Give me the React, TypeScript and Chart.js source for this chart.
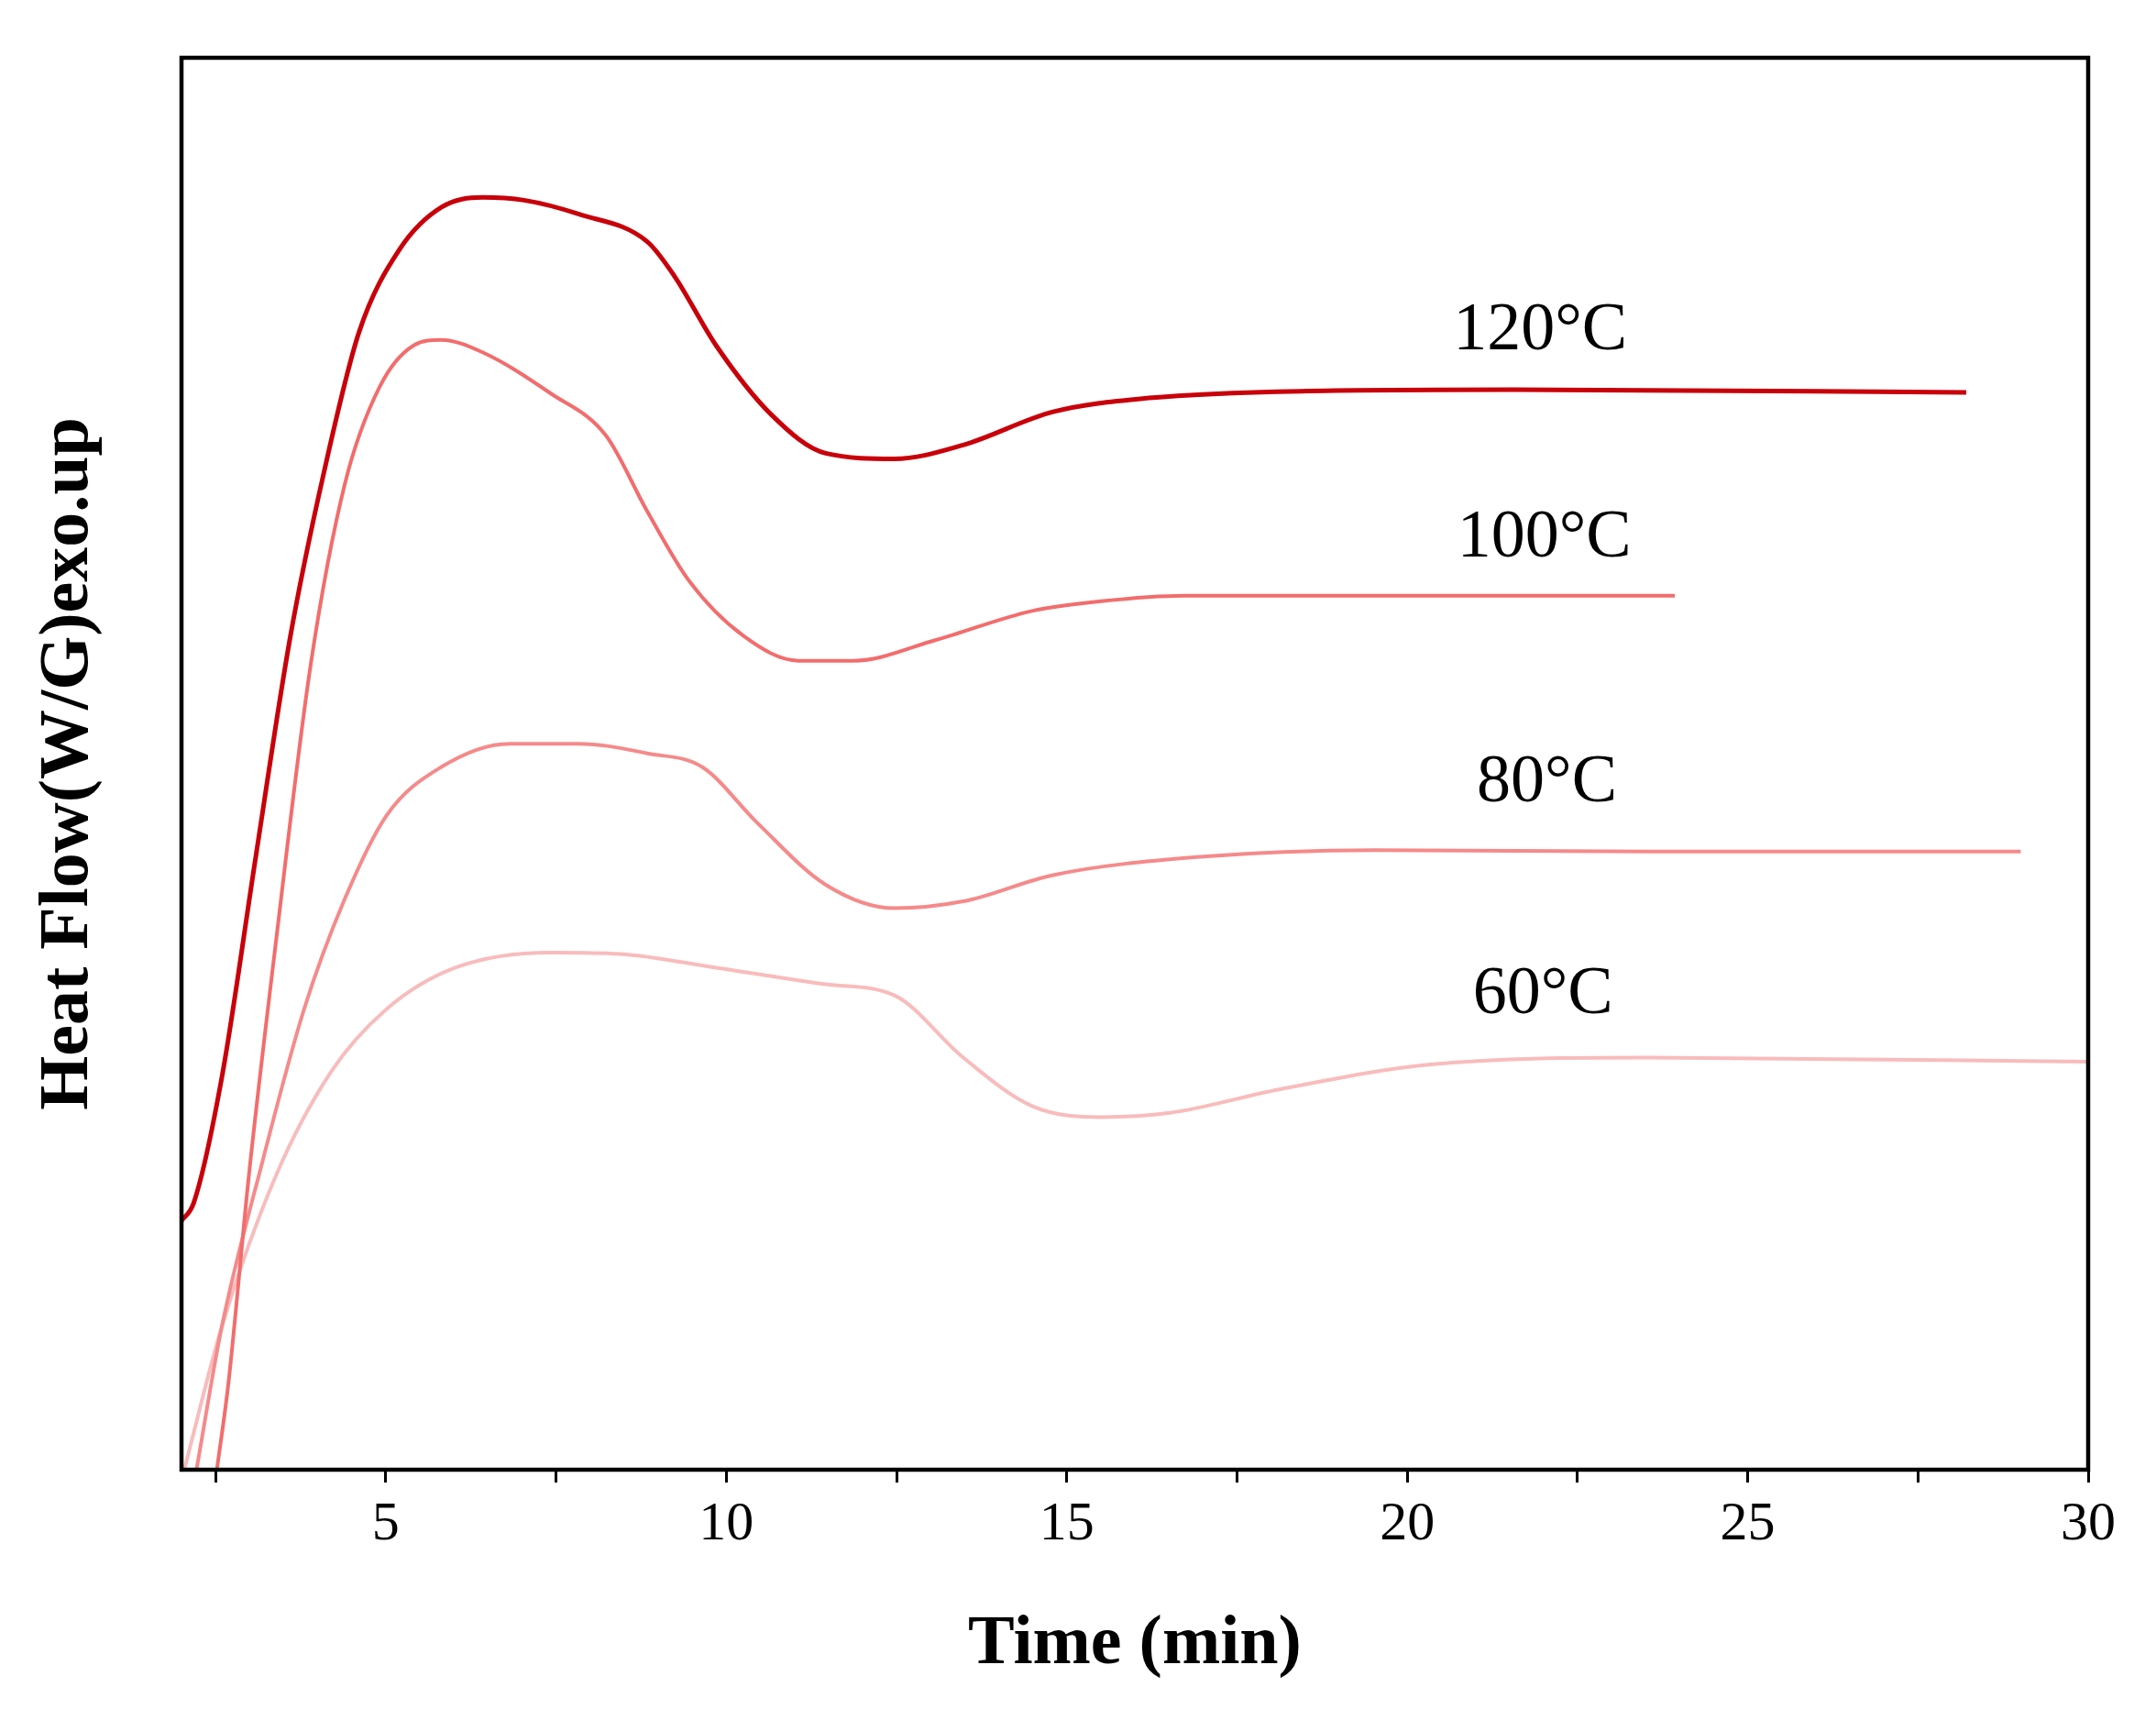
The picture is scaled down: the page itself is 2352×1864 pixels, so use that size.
import React, { useEffect, useRef } from "react";
import { Chart, registerables } from "chart.js";
Chart.register(...registerables);

const t120 = [2.0, 2.18, 2.59, 3.09, 3.6, 4.1, 4.61, 5.21, 5.82, 6.42, 7.03, 7.83, 8.84, 9.24, 9.85, 10.66, 11.46, 12.47, 13.48, 14.8, 16.21, 18.53, 21.55, 28.21];
const y120 = [180, 193, 283, 443, 603, 723, 823, 883, 913, 920, 918, 908, 888, 863, 813, 763, 735, 731, 741, 765, 775, 780, 781, 779];
const t100 = [2.52, 2.69, 2.99, 3.39, 3.9, 4.4, 4.91, 5.41, 5.81, 6.42, 7.43, 8.23, 8.84, 9.45, 10.25, 11.06, 11.87, 13.08, 14.49, 15.5, 16.71, 23.93];
const y100 = [0, 63, 213, 383, 583, 713, 783, 813, 817, 808, 778, 748, 693, 643, 603, 585, 585, 600, 621, 628, 632, 632];
const t80 = [2.22, 2.59, 3.19, 3.8, 4.4, 5.01, 5.81, 6.82, 7.83, 8.84, 9.65, 10.45, 11.46, 12.47, 13.48, 14.8, 16.91, 19.53, 23.56, 29.01];
const y80 = [0, 103, 223, 333, 413, 473, 508, 525, 525, 518, 508, 468, 423, 406, 411, 430, 443, 448, 447, 447];
const t60 = [2.04, 2.59, 3.39, 4.2, 5.01, 6.02, 7.43, 8.44, 9.85, 11.46, 12.47, 13.48, 14.49, 15.5, 16.51, 18.12, 20.34, 23.56, 30];
const y60 = [0, 103, 213, 288, 333, 363, 374, 373, 363, 351, 343, 298, 263, 255, 258, 275, 293, 298, 295];

const seriesNames = ["120°C", "100°C", "80°C", "60°C"];
const seriesColors = ["#c8000a", "#f26d6d", "#f58a8a", "#f8bcbc"];
const labelX = [22.06, 22.12, 22.16, 22.1];
const labelY = [823, 673, 496, 343];

const zip = (t: number[], y: number[]) => t.map((x, i) => ({ x, y: y[i] }));

export default function App() {
  const ref = useRef<HTMLCanvasElement>(null);
  useEffect(() => {
    document.body.style.margin = "0";
    const font = "'Liberation Serif', 'Times New Roman', serif";
    const labelsPlugin = {
      id: "labels",
      afterDraw(chart: any) {
        const { ctx, scales, chartArea } = chart;
        ctx.save();
        ctx.font = `74px ${font}`;
        ctx.fillStyle = "#000";
        ctx.textAlign = "center";
        ctx.textBaseline = "middle";
        seriesNames.forEach((n, i) => {
          ctx.fillText(n, scales.x.getPixelForValue(labelX[i]) - 8, scales.y.getPixelForValue(labelY[i]));
        });
        ctx.strokeStyle = "#000";
        ctx.lineWidth = 4.5;
        ctx.strokeRect(chartArea.left, chartArea.top, chartArea.right - chartArea.left, chartArea.bottom - chartArea.top);
        ctx.restore();
      },
    };
    const data = [zip(t120, y120), zip(t100, y100), zip(t80, y80), zip(t60, y60)];
    const chart = new Chart(ref.current!, {
      type: "line",
      data: {
        datasets: data.map((d, i) => ({
          label: seriesNames[i],
          data: d,
          borderColor: seriesColors[i],
          borderWidth: i === 0 ? 5 : 4,
          pointRadius: 0,
          cubicInterpolationMode: "monotone" as const,
          fill: false,
        })),
      },
      options: {
        responsive: false,
        animation: false,
        layout: { padding: { top: 63, right: 74, bottom: 20, left: 0 } },
        plugins: { legend: { display: false }, tooltip: { enabled: false } },
        scales: {
          x: {
            type: "linear",
            min: 2,
            max: 30,
            afterBuildTicks: (s: any) => {
              const arr = [];
              for (let v = 2.5; v <= 30; v += 2.5) arr.push({ value: v });
              s.ticks = arr;
            },
            afterFit: (s: any) => { s.height = 241; },
            grid: { display: true, drawOnChartArea: false, drawTicks: true, tickLength: 14, tickColor: "#000", tickWidth: 3 },
            border: { display: false },
            ticks: {
              color: "#000",
              font: { family: font, size: 60 },
              padding: 10,
              maxRotation: 0,
              autoSkip: false,
              callback: (v: any) => (Number(v) % 5 === 0 ? String(v) : ""),
            },
            title: { display: true, text: "Time (min)", color: "#000", font: { family: font, size: 76, weight: "bold" }, padding: { top: 12 } },
          },
          y: {
            min: 0,
            max: 1021,
            afterFit: (s: any) => { s.width = 198; },
            grid: { display: false },
            border: { display: false },
            ticks: { display: false },
            title: { display: true, text: "Heat Flow(W/G)exo.up", color: "#000", font: { family: font, size: 76, weight: "bold" }, padding: { bottom: 0, top: 30 } },
          },
        },
      },
      plugins: [labelsPlugin],
    } as any);
    return () => chart.destroy();
  }, []);
  return <canvas ref={ref} width={2352} height={1864} style={{ display: "block", width: 2352, height: 1864 }} />;
}
